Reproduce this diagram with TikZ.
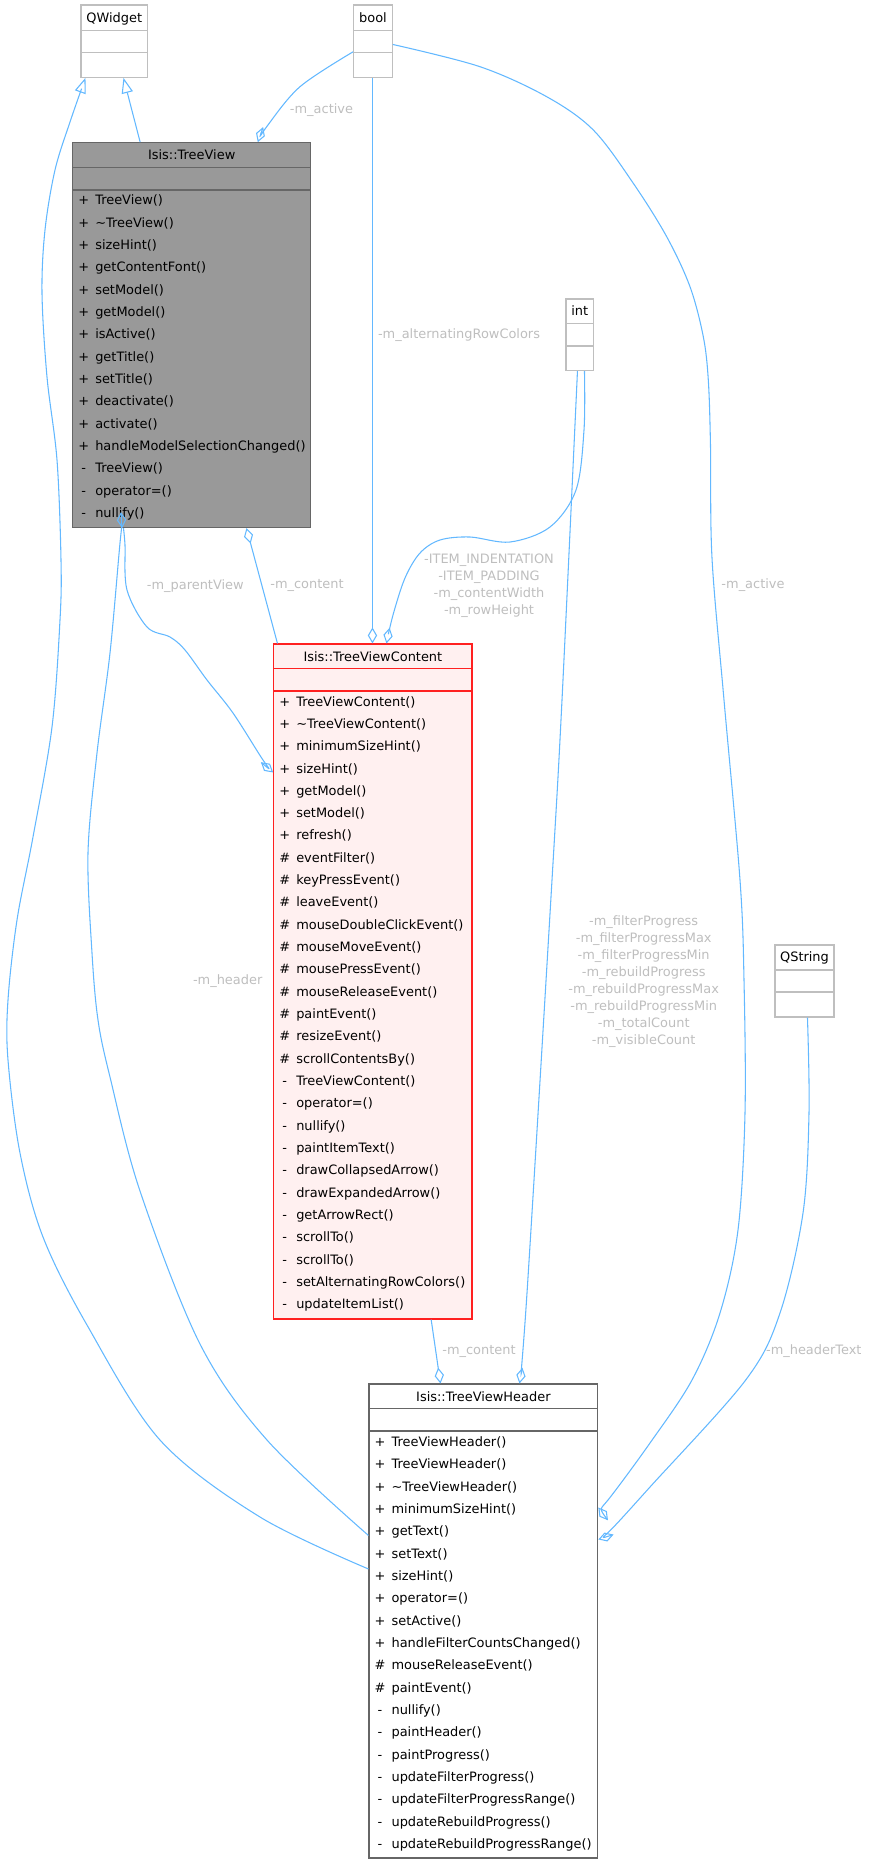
\documentclass[tikz,border=0pt]{standalone}
\usepackage{fontspec}
\setmainfont{DejaVu Sans}
\usetikzlibrary{arrows.meta,calc,fit}
\definecolor{edgeblue}{HTML}{63B8FF}
\definecolor{lblgrey}{HTML}{BEBEBE}
\definecolor{gl}{HTML}{BFBFBF}
\definecolor{gm}{HTML}{999999}
\definecolor{gd}{HTML}{666666}
\definecolor{pinkfill}{HTML}{FFF0F0}
\definecolor{redline}{HTML}{FF2020}
\newcommand{\dfont}{\fontsize{9.7pt}{12.75pt}\selectfont}
\tikzset{
  edgeline/.style={draw=edgeblue, line width=0.8pt},
  inh/.style={edgeline, -{Triangle[open, length=11.5pt, width=8.5pt]}},
  agg/.style={edgeline, -{Diamond[open, length=12pt, width=7pt]}},
  lbl/.style={text=lblgrey, font=\dfont, align=center, inner sep=0pt},
  plainbox/.style={draw=gl, fill=white, line width=0.8pt, inner sep=0pt},
  plainboxsep/.style={draw=gl, line width=0.8pt},
  curbox/.style={draw=gd, fill=gm, line width=0.8pt, inner sep=0pt},
  curboxsep/.style={draw=gd, line width=0.8pt},
  redbox/.style={draw=redline, fill=pinkfill, line width=0.8pt, inner sep=0pt},
  redboxsep/.style={draw=redline, line width=0.8pt},
  docbox/.style={draw=gd, fill=white, line width=0.8pt, inner sep=0pt},
  docboxsep/.style={draw=gd, line width=0.8pt},
  titletext/.style={anchor=base, inner sep=0pt, font=\dfont},
  membertext/.style={anchor=base west, inner sep=0pt, font=\dfont},
  symtext/.style={anchor=base, inner sep=0pt, font=\dfont},
}
% #1 name, #2 style, #3 x1, #4 y1, #5 x2, #6 y2, #7 sep1, #8 sep2
\newcommand{\umlbox}[8]{%
  \node[#2, fit={(#3,#4) (#5,#6)}] (#1) {};
  \draw[#2sep] (#3,#7) -- (#5,#7) (#3,#8) -- (#5,#8);
}
% #1 prefix, #2 left x, #3 first row centre y, #4 list
\newcommand{\umlmembers}[4]{%
  \foreach \s/\t [count=\i from 0] in {#4} {
    \pgfmathsetmacro{\yy}{#3+\i*22.33+4.3}
    \node[symtext, name=#1s\i] at ({#2+11},\yy) {\s};
    \node[membertext, name=#1m\i] at ({#2+22.3},\yy) {\t};
  }%
}
\begin{document}
\begin{tikzpicture}[x=0.75pt,y=-0.75pt]
\useasboundingbox (0,0) rectangle (868,1864);

% ---------- boxes ----------
\umlbox{qw}{plainbox}{81}{5}{147.3}{77.3}{30.7}{52.3}
\node[titletext] (qwt) at (114.2,22.2) {QWidget};

\umlbox{bool}{plainbox}{353.7}{5}{392.3}{77.3}{30.7}{52.3}
\node[titletext] (boolt) at (373,22.2) {bool};

\umlbox{int}{plainbox}{566}{299}{593.5}{370.5}{323.7}{346}
\node[titletext] (intt) at (579.8,315.6) {int};

\umlbox{qs}{plainbox}{775}{945}{834}{1017}{970}{992}
\node[titletext] (qst) at (804.5,961.8) {QString};

\umlbox{tv}{curbox}{72.7}{142.7}{310.7}{527.5}{167.3}{190}
\node[titletext] (tvt) at (191.7,159.6) {Isis::TreeView};
\umlmembers{tv}{72.7}{200.6}{+/TreeView(), +/\textasciitilde TreeView(), +/sizeHint(), +/getContentFont(), +/setModel(), +/getModel(), +/isActive(), +/getTitle(), +/setTitle(), +/deactivate(), +/activate(), +/handleModelSelectionChanged(), -/TreeView(), -/operator=(), -/nullify()}

\umlbox{tvc}{redbox}{273.7}{644}{472}{1319}{668.7}{691}
\node[titletext] (tvct) at (372.9,661.2) {Isis::TreeViewContent};
\umlmembers{tvc}{273.7}{701.7}{+/TreeViewContent(), +/\textasciitilde TreeViewContent(), +/minimumSizeHint(), +/sizeHint(), +/getModel(), +/setModel(), +/refresh(), \#/eventFilter(), \#/keyPressEvent(), \#/leaveEvent(), \#/mouseDoubleClickEvent(), \#/mouseMoveEvent(), \#/mousePressEvent(), \#/mouseReleaseEvent(), \#/paintEvent(), \#/resizeEvent(), \#/scrollContentsBy(), -/TreeViewContent(), -/operator=(), -/nullify(), -/paintItemText(), -/drawCollapsedArrow(), -/drawExpandedArrow(), -/getArrowRect(), -/scrollTo(), -/scrollTo(), -/setAlternatingRowColors(), -/updateItemList()}

\umlbox{tvh}{docbox}{369}{1384}{597.8}{1858}{1408.6}{1431}
\node[titletext] (tvht) at (483.4,1401.4) {Isis::TreeViewHeader};
\umlmembers{tvh}{369}{1442.3}{+/TreeViewHeader(), +/TreeViewHeader(), +/\textasciitilde TreeViewHeader(), +/minimumSizeHint(), +/getText(), +/setText(), +/sizeHint(), +/operator=(), +/setActive(), +/handleFilterCountsChanged(), \#/mouseReleaseEvent(), \#/paintEvent(), -/nullify(), -/paintHeader(), -/paintProgress(), -/updateFilterProgress(), -/updateFilterProgressRange(), -/updateRebuildProgress(), -/updateRebuildProgressRange()}

% ---------- attachment points ----------
\coordinate (qwA) at ($(qw.south west)+(43,0)$);
\coordinate (qwB) at ($(qw.south west)+(5,0)$);
\coordinate (boolL) at ($(bool.north west)+(0,47.3)$);
\coordinate (boolB) at ($(bool.south west)+(19.3,0)$);
\coordinate (boolR) at ($(bool.north east)+(0,40)$);
\coordinate (tvT1) at ($(tv.north west)+(68,0)$);
\coordinate (tvT2) at ($(tv.north west)+(185.6,0)$);
\coordinate (tvB1) at ($(tv.south west)+(50,0)$);
\coordinate (tvB2) at ($(tv.south west)+(51.3,0)$);
\coordinate (tvB3) at ($(tv.south west)+(174.3,0)$);
\coordinate (tvcT1) at ($(tvc.north west)+(4.3,0)$);
\coordinate (tvcT2) at ($(tvc.north west)+(99.3,0)$);
\coordinate (tvcT3) at ($(tvc.north west)+(113.3,0)$);
\coordinate (tvcL) at ($(tvc.north west)+(0,129)$);
\coordinate (tvcB) at ($(tvc.south west)+(158,0)$);
\coordinate (intB1) at ($(int.south west)+(12,0)$);
\coordinate (intB2) at ($(int.south west)+(19,0)$);
\coordinate (qsB) at ($(qs.south west)+(33,0)$);
\coordinate (tvhL1) at ($(tvh.north west)+(0,152)$);
\coordinate (tvhL2) at ($(tvh.north west)+(0,185.5)$);
\coordinate (tvhT1) at ($(tvh.north west)+(72,0)$);
\coordinate (tvhT2) at ($(tvh.north west)+(151,0)$);
\coordinate (tvhR1) at ($(tvh.north east)+(0,124)$);
\coordinate (tvhR2) at ($(tvh.north east)+(0,156)$);

% ---------- connectors ----------
\draw[inh] (tvT1) -- (qwA);
\draw[inh] plot[smooth, tension=0.55] coordinates {(tvhL2) (260,1517) (160,1440) (87,1325) (43,1237) (20,1153) (8,1060) (8,1000) (17,920) (33,837) (52,727) (60,620) (61,560) (57,460) (47,377) (42,293) (45,230) (55,170) (70,122) (qwB)};
\draw[agg] plot[smooth, tension=0.55] coordinates {(boolL) (300,86.7) (266.7,126.7) (tvT2)};
\draw[agg] (boolB) -- (tvcT2);
\draw[agg] plot[smooth, tension=0.55] coordinates {(intB2) (584,430) (576,490) (550,527) (510,542) (470,537) (440,540) (420,553) (405,578) (393,615) (tvcT3)};
\draw[agg] plot[smooth, tension=0.55] coordinates {(intB1) (562,700) (552,880) (527,1293) (tvhT2)};
\draw[agg] plot[smooth, tension=0.55] coordinates {(boolR) (480,66.7) (546.7,96.7) (593.3,130) (633.3,183.3) (666.7,236.7) (690,286.7) (703.3,336.7) (708.3,380) (710.5,446) (712,558) (724,700) (740,880) (744,980) (745,1113) (738,1230) (720,1313) (692,1380) (650,1443) (608,1500) (tvhR1)};
\draw[agg] plot[smooth, tension=0.55] coordinates {(qsB) (809,1113) (803,1213) (780,1313) (745.7,1380) (650,1487) (610.7,1530) (tvhR2)};
\draw[agg] (tvcT1) -- (tvB3);
\draw[agg] plot[smooth, tension=0.55] coordinates {(tvhL1) (267,1440) (200,1344) (140,1191) (110,1077) (98,1020) (92,953) (88,853) (97,753) (110,653) (120,543) (tvB1)};
\draw[agg] plot[smooth, tension=0.55] coordinates {(tvB2) (125,545) (127,590) (147,627) (170,637) (185,650) (207,680) (233,713) (263,760) (tvcL)};
\draw[agg] (tvcB) -- (tvhT1);

% ---------- labels ----------
\node[lbl] (l1) at (321.5,110) {-m\_active};
\node[lbl] (l2) at (459,335) {-m\_alternatingRowColors};
\node[lbl] (l3) at (489,585.5) {-ITEM\_INDENTATION\\-ITEM\_PADDING\\-m\_contentWidth\\-m\_rowHeight};
\node[lbl] (l4) at (195.3,585.7) {-m\_parentView};
\node[lbl] (l5) at (307,585.7) {-m\_content};
\node[lbl] (l6) at (753,585) {-m\_active};
\node[lbl] (l7) at (227.7,981) {-m\_header};
\node[lbl] (l8) at (643.7,982) {-m\_filterProgress\\-m\_filterProgressMax\\-m\_filterProgressMin\\-m\_rebuildProgress\\-m\_rebuildProgressMax\\-m\_rebuildProgressMin\\-m\_totalCount\\-m\_visibleCount};
\node[lbl] (l9) at (479,1351.7) {-m\_content};
\node[lbl] (l10) at (813.8,1351.3) {-m\_headerText};
\end{tikzpicture}
\end{document}
